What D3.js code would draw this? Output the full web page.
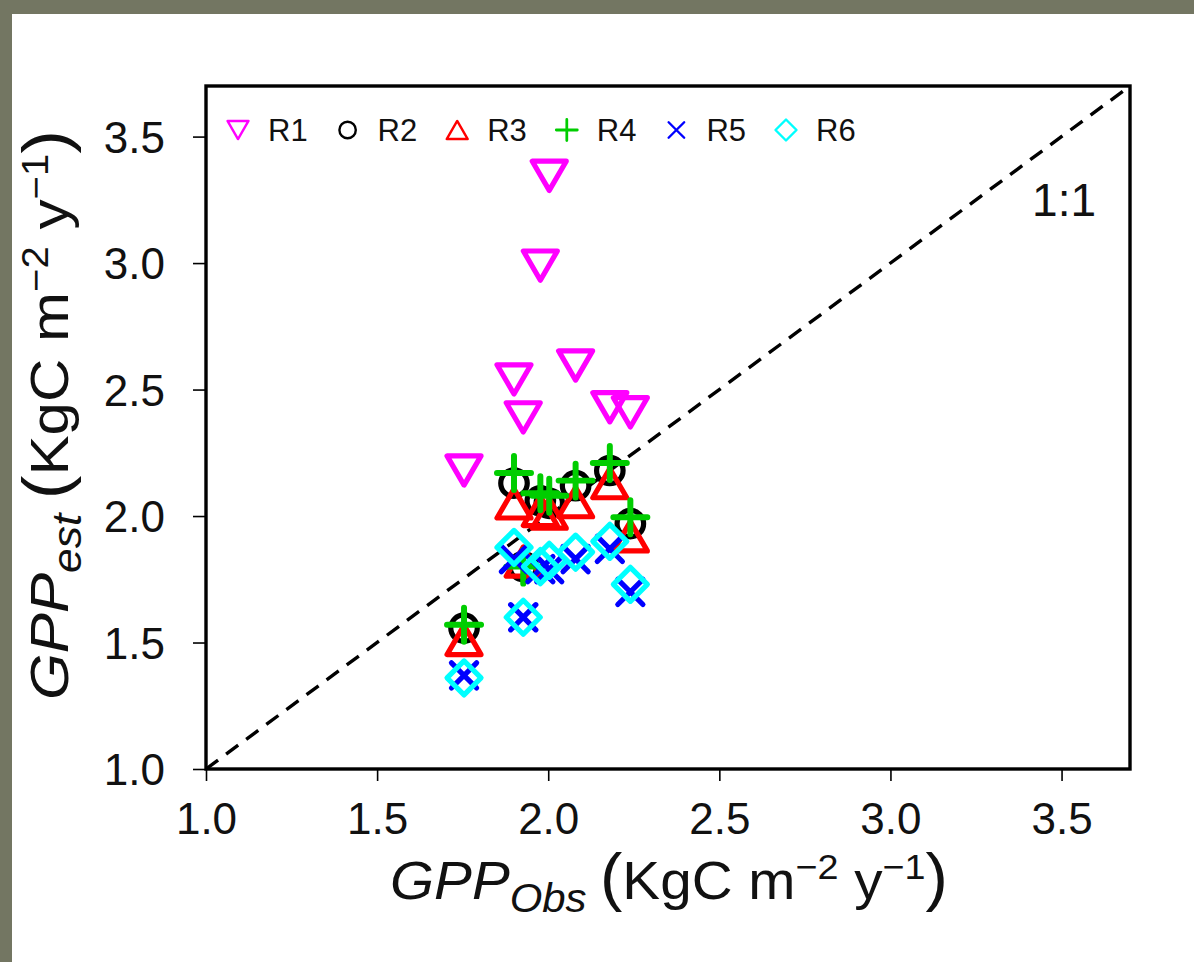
<!DOCTYPE html>
<html><head><meta charset="utf-8">
<script src="https://cdn.jsdelivr.net/npm/d3@7"></script>
<style>body{margin:0;padding:0;overflow:hidden;background:#737662}</style>
</head><body>
<script>
// ---- data ----
const obsX = [1.754, 1.90, 1.927, 1.977, 2.003, 2.08, 2.18, 2.24];
const R1 = [2.18, 2.54, 2.39, 2.99, 3.345, 2.595, 2.43, 2.41];
const R2 = [1.557, 2.13, 1.80, 2.06, 2.05, 2.12, 2.18, 1.97];
const R3 = [1.51, 2.05, 1.82, 2.02, 2.01, 2.055, 2.13, 1.92];
const R4 = [1.57, 2.17, 1.80, 2.09, 2.08, 2.14, 2.21, 1.995];
const R5 = [1.37, 1.83, 1.60, 1.79, 1.79, 1.83, 1.87, 1.70];
const R6 = [1.36, 1.876, 1.60, 1.80, 1.825, 1.857, 1.90, 1.73];
const seriesNames = ["R1","R2","R3","R4","R5","R6"];
const seriesValues = [R1,R2,R3,R4,R5,R6];
const tickValues = [1.0,1.5,2.0,2.5,3.0,3.5];
const oneToOne = [1.0, 3.7];

const W=1194,H=962;
const svg=d3.select("body").append("svg").attr("width",W).attr("height",H);
svg.append("rect").attr("width",W).attr("height",H).attr("fill","#737662");
svg.append("rect").attr("x",12).attr("y",14).attr("width",W-12).attr("height",H-14).attr("fill","#ffffff");

const L=206,R=1130,T=86,B=769;
const x=d3.scaleLinear().domain([1.0,3.7]).range([L,R]);
const y=d3.scaleLinear().domain([1.0,3.7]).range([B,T]);

const font="'Liberation Sans', Arial, sans-serif";

// axes
const xAxis=d3.axisBottom(x).tickValues(tickValues).tickFormat(d3.format(".1f")).tickSize(12).tickPadding(22);
const gx=svg.append("g").attr("transform",`translate(0,${B})`).call(xAxis);
gx.select(".domain").remove();
gx.selectAll("line").attr("stroke","#000").attr("stroke-width",1.6);
gx.selectAll("text").attr("font-family",font).attr("font-size",44).attr("fill","#111");

const yAxis=d3.axisLeft(y).tickValues(tickValues).tickFormat(d3.format(".1f")).tickSize(13).tickPadding(28);
const gy=svg.append("g").attr("transform",`translate(${L},0)`).call(yAxis);
gy.select(".domain").remove();
gy.selectAll("line").attr("stroke","#000").attr("stroke-width",1.6);
gy.selectAll("text").attr("font-family",font).attr("font-size",44).attr("fill","#111").attr("dy","0.36em");

// clip
svg.append("clipPath").attr("id","clip").append("rect").attr("x",L).attr("y",T).attr("width",R-L).attr("height",B-T);
const plot=svg.append("g").attr("clip-path","url(#clip)");

// 1:1 line
plot.append("line").attr("x1",x(oneToOne[0])).attr("y1",y(oneToOne[0])).attr("x2",x(oneToOne[1])).attr("y2",y(oneToOne[1]))
  .attr("stroke","#000").attr("stroke-width",3.4).attr("stroke-dasharray","15,10");

// symbols
const colors=["#ff00ff","#000000","#ff0000","#00cd00","#0000ff","#00ffff"];
function sym(g,i,cx,cy,s,sw){
  const c=colors[i];
  if(i===0){ // down triangle
    const h=s*0.86;
    g.append("path").attr("d",`M${cx-s/2},${cy-h/2}L${cx+s/2},${cy-h/2}L${cx},${cy+h/2}Z`)
      .attr("fill","none").attr("stroke",c).attr("stroke-width",sw).attr("stroke-linejoin","round");
  } else if(i===1){
    g.append("circle").attr("cx",cx).attr("cy",cy).attr("r",s*0.39).attr("fill","none").attr("stroke",c).attr("stroke-width",sw);
  } else if(i===2){
    const h=s*0.86;
    g.append("path").attr("d",`M${cx-s/2},${cy+h/2}L${cx+s/2},${cy+h/2}L${cx},${cy-h/2}Z`)
      .attr("fill","none").attr("stroke",c).attr("stroke-width",sw).attr("stroke-linejoin","round");
  } else if(i===3){
    const a=s*0.5;
    g.append("path").attr("d",`M${cx-a},${cy}L${cx+a},${cy}M${cx},${cy-a}L${cx},${cy+a}`)
      .attr("stroke",c).attr("stroke-width",sw*1.15).attr("stroke-linecap","round");
  } else if(i===4){
    const a=s*0.37;
    g.append("path").attr("d",`M${cx-a},${cy-a}L${cx+a},${cy+a}M${cx-a},${cy+a}L${cx+a},${cy-a}`)
      .attr("stroke",c).attr("stroke-width",sw).attr("stroke-linecap","round");
  } else {
    const a=s*0.5;
    g.append("path").attr("d",`M${cx},${cy-a}L${cx+a},${cy}L${cx},${cy+a}L${cx-a},${cy}Z`)
      .attr("fill","none").attr("stroke",c).attr("stroke-width",sw).attr("stroke-linejoin","round");
  }
}
seriesValues.forEach((vals,i)=>{
  const g=plot.append("g");
  vals.forEach((v,j)=>sym(g,i,x(obsX[j]),y(v),34,5.2));
});

// frame
svg.append("rect").attr("x",L).attr("y",T).attr("width",R-L).attr("height",B-T)
  .attr("fill","none").attr("stroke","#000").attr("stroke-width",3.4);

// legend
const lg=svg.append("g");
seriesNames.forEach((n,i)=>{
  const lx=238+i*109.6, ly=130;
  sym(lg,i,lx,ly,21,2.4);
  lg.append("text").attr("x",lx+30).attr("y",ly+11).attr("font-family",font).attr("font-size",31).attr("fill","#111").text(n);
});

// 1:1 label
svg.append("text").attr("x",1096).attr("y",216).attr("text-anchor","end").attr("font-family",font).attr("font-size",46).attr("fill","#111").text("1:1");

// axis titles
function title(sel,sub){
  sel.append("tspan").attr("font-style","italic").text("GPP");
  sel.append("tspan").attr("font-style","italic").attr("font-size",40).attr("dy",13).text(sub);
  sel.append("tspan").attr("dy",-13).attr("font-size",64).text("\u2009(");
  sel.append("tspan").text("KgC m");
  sel.append("tspan").attr("font-size",36).attr("dy",-20).text("\u22122");
  sel.append("tspan").attr("dy",20).text(" y");
  sel.append("tspan").attr("font-size",36).attr("dy",-20).text("\u22121");
  sel.append("tspan").attr("dy",20).attr("font-size",64).text(")");
}
function fit(t,target){
  const len=t.node().getComputedTextLength();
  return target/len;
}
const xg=svg.append("g");
const xt=xg.append("text").attr("x",0).attr("y",0).attr("text-anchor","middle")
  .attr("font-family",font).attr("font-size",54).attr("fill","#111");
title(xt,"Obs");
xg.attr("transform",`translate(669,899) scale(${fit(xt,558)},1)`);

const yg=svg.append("g");
const yt=yg.append("text").attr("x",0).attr("y",0).attr("text-anchor","middle")
  .attr("font-family",font).attr("font-size",54).attr("fill","#111");
title(yt,"est");
yg.attr("transform",`translate(68,415) rotate(-90) scale(${fit(yt,570)},1)`);
</script>
</body></html>
